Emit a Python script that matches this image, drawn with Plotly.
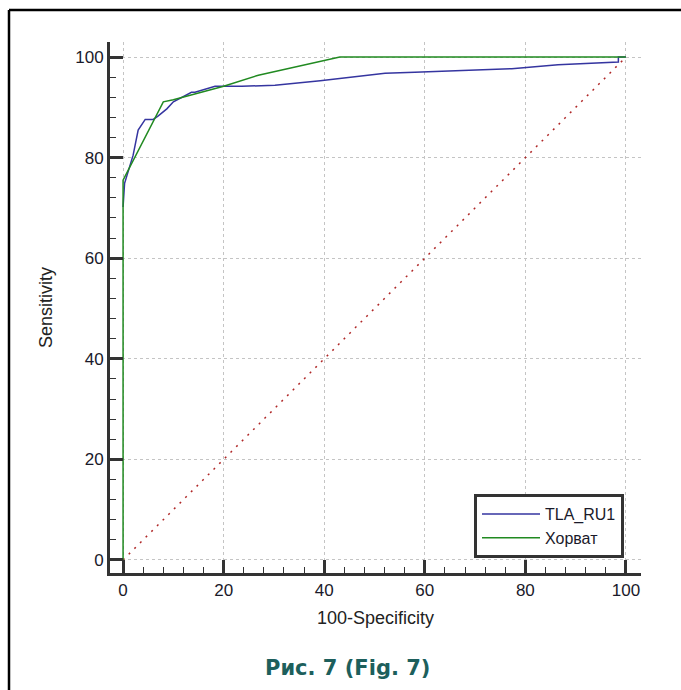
import plotly.graph_objects as go

# ROC curves: false positive rate (100-Specificity) vs. true positive rate (Sensitivity)
tla_fpr = [0, 0.3, 2.0, 3.0, 4.4, 6.0, 7.0, 8.7, 10.0, 13.6, 14.3, 18.3, 23.6,
           30.2, 39.2, 52.1, 58.0, 68.0, 77.3, 86.5, 92.8, 98.5, 98.5, 100]
tla_tpr = [70.2, 74.9, 80.5, 85.5, 87.6, 87.6, 88.3, 89.7, 91.1, 93.0, 93.0, 94.2, 94.2,
           94.4, 95.3, 96.8, 97.0, 97.3, 97.7, 98.5, 98.8, 99.0, 100, 100]

horvat_fpr = [0, 0, 8.0, 10.0, 20.0, 26.9, 43.1, 100]
horvat_tpr = [0, 75.5, 91.1, 91.5, 94.2, 96.4, 100, 100]

ref_fpr = [0, 100]
ref_tpr = [0, 100]

series_names = ["TLA_RU1", "Хорват"]
tick_values = [0, 20, 40, 60, 80, 100]

FONT = "Arial, Liberation Sans, sans-serif"

fig = go.Figure()

fig.add_trace(go.Scatter(
    x=ref_fpr, y=ref_tpr, mode="lines", showlegend=False, hoverinfo="skip",
    line=dict(color="#b02828", width=1.5, dash="2px,6px"),
))
fig.add_trace(go.Scatter(
    x=tla_fpr, y=tla_tpr, mode="lines", name=series_names[0],
    line=dict(color="#3535a0", width=1.5),
))
fig.add_trace(go.Scatter(
    x=horvat_fpr, y=horvat_tpr, mode="lines", name=series_names[1],
    line=dict(color="#218a21", width=1.5),
))

axis_common = dict(
    range=[-2.6, 103],
    tickmode="array", tickvals=tick_values, ticktext=[str(v) for v in tick_values],
    showline=True, linewidth=3, linecolor="#333333", mirror=False,
    ticks="inside", ticklen=13, tickwidth=3, tickcolor="#333333",
    minor=dict(ticks="inside", ticklen=6, tickwidth=1, tickcolor="#333333",
               dtick=4, tick0=0, showgrid=False),
    showgrid=True, gridcolor="#c4c4c4", gridwidth=1, griddash="dot",
    zeroline=False,
    tickfont=dict(family=FONT, size=17, color="#1a1a2a"),
    title_font=dict(family=FONT, size=18, color="#222222"),
    fixedrange=True,
)

fig.update_xaxes(**axis_common, title_text="100-Specificity", title_standoff=12)
fig.update_yaxes(**axis_common, title_text="Sensitivity", title_standoff=18)

# page frame (top and left rules) and caption
L, T, W, H = 110, 42, 531, 531
def px_x(p):
    return (p - L) / W
def px_y(p):
    return (T + H - p) / H

fig.add_shape(type="line", xref="paper", yref="paper",
              x0=px_x(9), x1=px_x(690), y0=px_y(10), y1=px_y(10),
              line=dict(color="black", width=2.5))
fig.add_shape(type="line", xref="paper", yref="paper",
              x0=px_x(9), x1=px_x(9), y0=px_y(10), y1=px_y(700),
              line=dict(color="black", width=2.5))

fig.add_annotation(
    text="<b>Рис. 7 (Fig. 7)</b>", xref="paper", yref="paper",
    x=px_x(347), y=px_y(668), xanchor="center", yanchor="middle",
    showarrow=False,
    font=dict(family="DejaVu Sans", size=21, color="#1d5f5c"),
)

fig.update_layout(
    width=681, height=690,
    margin=dict(l=L, r=681 - L - W, t=T, b=690 - T - H, pad=0),
    paper_bgcolor="white", plot_bgcolor="white",
    showlegend=True,
    legend=dict(
        x=px_x(624), y=px_y(558), xanchor="right", yanchor="bottom",
        bgcolor="white", bordercolor="#333333", borderwidth=3,
        font=dict(family=FONT, size=16, color="#1a1a2a"),
        tracegroupgap=0, itemwidth=58,
    ),
)

fig.write_html("out.html")
